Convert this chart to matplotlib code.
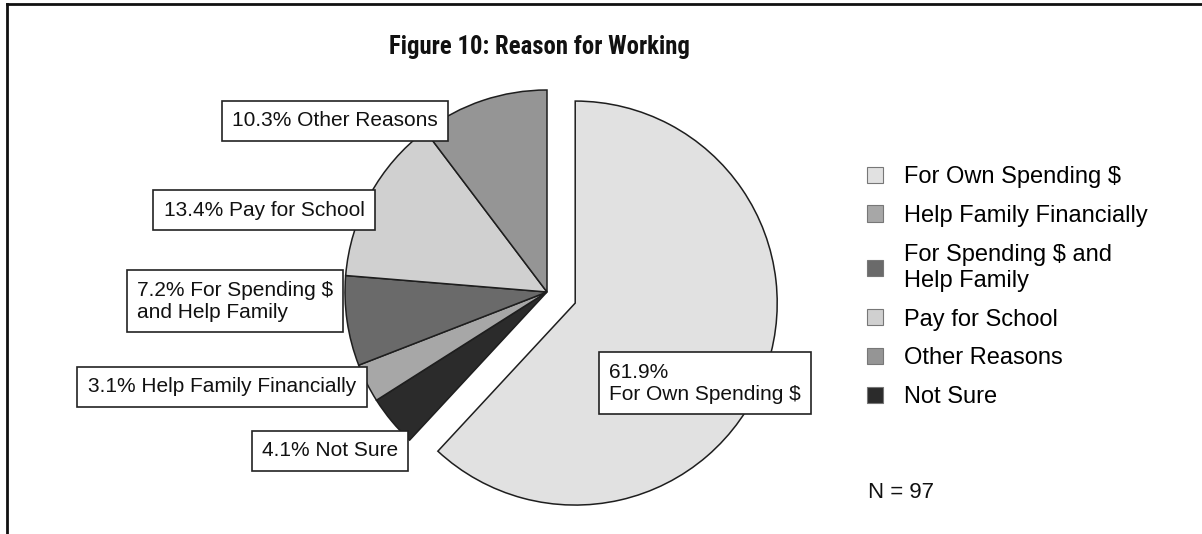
import matplotlib
matplotlib.use("Agg")
import matplotlib.pyplot as plt
from matplotlib import font_manager
from matplotlib.patches import Patch

plt.rcParams["font.family"] = ["Liberation Sans", "DejaVu Sans"]

# slices in drawing order (clockwise from 12 o'clock)
reasons = ["For Own Spending $", "Not Sure", "Help Family Financially",
           "For Spending $ and Help Family", "Pay for School", "Other Reasons"]
shares = [61.9, 4.1, 3.1, 7.2, 13.4, 10.3]
greys = ["#e1e1e1", "#2b2b2b", "#a7a7a7", "#6a6a6a", "#d0d0d0", "#959595"]
pulled_out = [0.15, 0, 0, 0, 0, 0]   # fraction of the radius

# legend order differs from slice order
legend_order = ["For Own Spending $", "Help Family Financially",
                "For Spending $ and Help Family", "Pay for School",
                "Other Reasons", "Not Sure"]
legend_text = {"For Spending $ and Help Family": "For Spending $ and\nHelp Family"}

# label text per slice and where each box sits (pixels, y from top)
label_text = {
    "For Own Spending $": "{:.1f}%\nFor Own Spending $",
    "Not Sure": "{:.1f}% Not Sure",
    "Help Family Financially": "{:.1f}% Help Family Financially",
    "For Spending $ and Help Family": "{:.1f}% For Spending $\nand Help Family",
    "Pay for School": "{:.1f}% Pay for School",
    "Other Reasons": "{:.1f}% Other Reasons",
}
label_pos = {
    "For Own Spending $": (705, 383),
    "Not Sure": (330, 451),
    "Help Family Financially": (222, 387),
    "For Spending $ and Help Family": (235, 301),
    "Pay for School": (264, 210),
    "Other Reasons": (335, 121),
}
n_respondents = 97

# title wants a narrow bold face; fall back to a smaller regular one
installed = {f.name for f in font_manager.fontManager.ttflist}
title_font, title_size = "Liberation Sans", 14.5
for fam, size in [("Liberation Sans Narrow", 17.5), ("Arial Narrow", 17.5),
                  ("Roboto Condensed", 17.8)]:
    if fam in installed:
        title_font, title_size = fam, size
        break

W, H = 1202, 534
R = 202
fig = plt.figure(figsize=(W / 100, H / 100), dpi=100)
ax = fig.add_axes([0, 0, 1, 1])

# pie works in data units here, so the explode offset is scaled by the radius
ax.pie(shares, colors=greys, explode=[e * R for e in pulled_out],
       startangle=90, counterclock=False, center=(547, H - 292), radius=R,
       wedgeprops=dict(edgecolor="#1e1e1e", linewidth=1.1))
ax.set_xlim(0, W)
ax.set_ylim(0, H)
ax.set_aspect("equal")
ax.axis("off")

for name, val in zip(reasons, shares):
    x, y = label_pos[name]
    ax.text(x, H - y, label_text[name].format(val), fontsize=15, color="#111111",
            ha="center", va="center", multialignment="left",
            bbox=dict(boxstyle="square,pad=0.5", facecolor="white",
                      edgecolor="#222222", linewidth=1.2))

ax.text(539, H - 47, "Figure 10: Reason for Working", fontsize=title_size,
        family=[title_font, "Liberation Sans"],
        fontweight="bold", ha="center", va="center", color="#111111")

handles = [Patch(facecolor=greys[reasons.index(r)], edgecolor="#777777", linewidth=0.8)
           for r in legend_order]
labels = [legend_text.get(r, r) for r in legend_order]
leg = ax.legend(handles, labels, loc="upper left", bbox_to_anchor=(867 / W, 1 - 166 / H),
                frameon=False, fontsize=17, handlelength=0.68, handleheight=0.68,
                handletextpad=0.9, labelspacing=0.71, borderpad=0, borderaxespad=0)
for t in leg.get_texts():
    t.set_linespacing(1.25)

ax.text(868, H - 492, f"N = {n_respondents}", fontsize=16, ha="left",
        va="center", color="#111111")

# page frame: top and left rules only
ax.plot([7, W], [H - 4, H - 4], color="#111111", linewidth=2, clip_on=False)
ax.plot([7, 7], [H - 4, 0], color="#111111", linewidth=2, clip_on=False)

fig.savefig("out.png", dpi=100, facecolor="white")
